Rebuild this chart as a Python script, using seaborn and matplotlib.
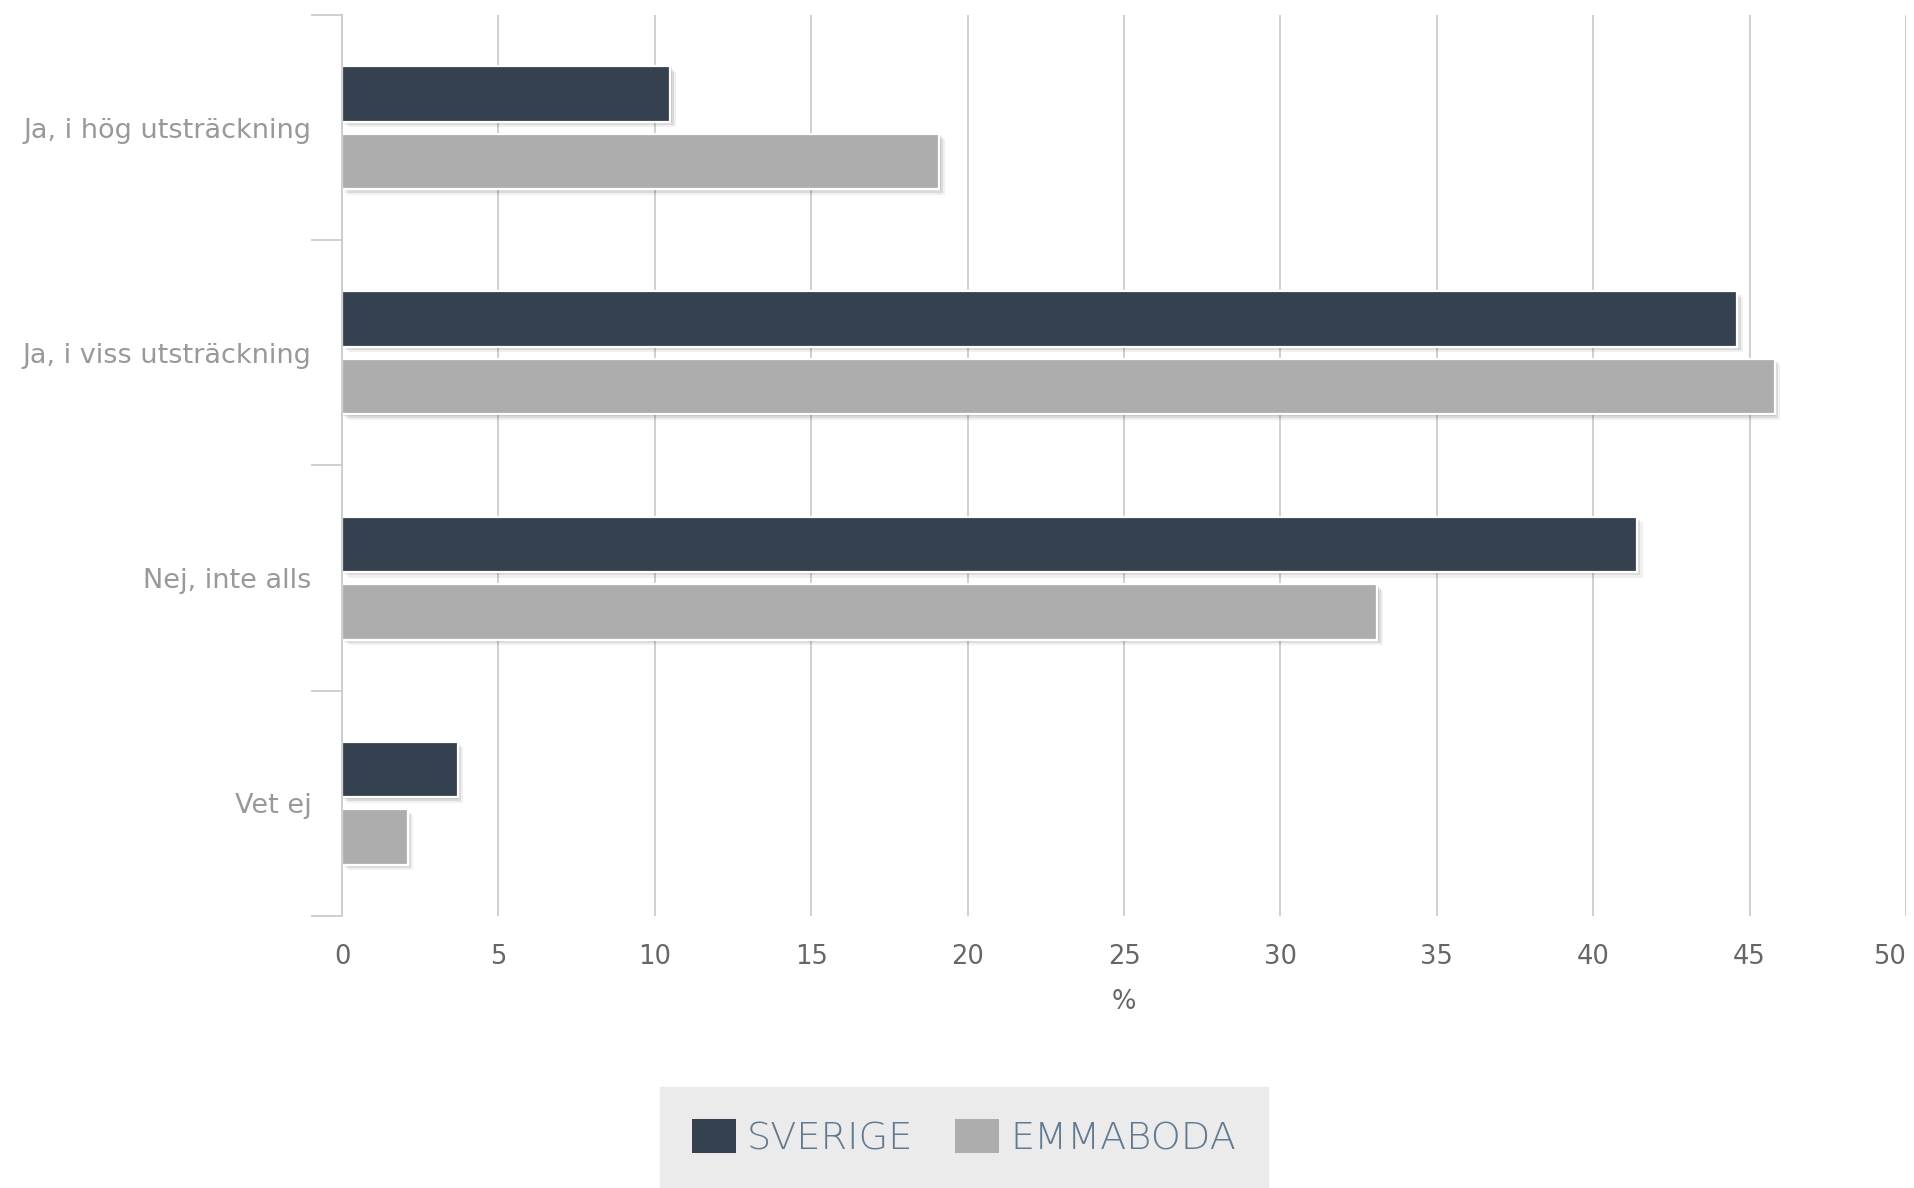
import matplotlib
matplotlib.use("Agg")
import matplotlib.pyplot as plt
import matplotlib.patheffects as pe
from matplotlib.patches import Patch
import seaborn as sns
import pandas as pd

categories = ["Ja, i hög utsträckning", "Ja, i viss utsträckning", "Nej, inte alls", "Vet ej"]
series_names = ["SVERIGE", "EMMABODA"]
sverige = [10.5, 44.6, 41.4, 3.7]
emmaboda = [19.1, 45.8, 33.1, 2.1]
x_ticks = [0, 5, 10, 15, 20, 25, 30, 35, 40, 45, 50]
colors = ["#35414e", "#adadad"]

df = pd.DataFrame({
    "category": categories * 2,
    "series": [series_names[0]] * len(categories) + [series_names[1]] * len(categories),
    "value": sverige + emmaboda,
})

sns.set_theme(style="white")
plt.rcParams["font.family"] = ["DejaVu Sans"]

fig = plt.figure(figsize=(19.15, 11.88), dpi=100)
ax = fig.add_axes([0.1786, 0.229, 0.9953 - 0.1786, 0.9874 - 0.229])

sns.barplot(data=df, y="category", x="value", hue="series", order=categories,
            hue_order=series_names, palette=colors, orient="h", width=0.6, gap=0.18,
            edgecolor="white", linewidth=1.6, saturation=1, legend=False, ax=ax)

shadow = [pe.SimplePatchShadow(offset=(1, -1), shadow_rgbFace="#000000", alpha=0.10),
          pe.SimplePatchShadow(offset=(2.5, -2.5), shadow_rgbFace="#000000", alpha=0.09),
          pe.SimplePatchShadow(offset=(4, -4), shadow_rgbFace="#000000", alpha=0.06),
          pe.Normal()]
for p in ax.patches:
    p.set_path_effects(shadow)

ax.set_xlim(0, 50)
ax.set_ylim(len(categories) - 0.5, -0.5)
ax.set_xticks(x_ticks)
ax.set_xticklabels([str(t) for t in x_ticks], color="#666666", fontsize=18.5)
ax.get_xticklabels()[-1].set_horizontalalignment("right")
ax.tick_params(axis="x", length=0, pad=20)
ax.xaxis.grid(True, color="#cccccc", linewidth=1.3)
ax.set_axisbelow(True)

# category boundaries as major ticks, labels at category centers as minor ticks
ax.set_yticks([i - 0.5 for i in range(len(categories) + 1)])
ax.set_yticklabels([])
ax.set_yticks(list(range(len(categories))), minor=True)
ax.set_yticklabels(categories, minor=True, color="#999999", fontsize=19.5)
ax.tick_params(axis="y", which="major", length=22, width=1.3, color="#cccccc", left=True)
ax.tick_params(axis="y", which="minor", length=0, pad=22)

for s in ["top", "right", "bottom"]:
    ax.spines[s].set_visible(False)
ax.spines["left"].set_color("#cccccc")
ax.spines["left"].set_linewidth(1.3)

ax.set_xlabel("%", color="#666666", fontsize=18.5, labelpad=14)
ax.set_ylabel("")

handles = [Patch(facecolor=c, edgecolor="none") for c in colors]
leg = fig.legend(handles, series_names, loc="lower center", bbox_to_anchor=(0.5035, 0.0),
                 ncol=2, frameon=True, facecolor="#ebebeb", edgecolor="#ebebeb",
                 fontsize=27.5, handlelength=1.15, handleheight=1.0, handletextpad=0.3,
                 columnspacing=1.1, borderpad=0.83, borderaxespad=0.0,
                 fancybox=False, framealpha=1)
for t in leg.get_texts():
    t.set_color("#5f7a91")
    t.set_fontweight("light")

fig.savefig("out.png", dpi=100)
